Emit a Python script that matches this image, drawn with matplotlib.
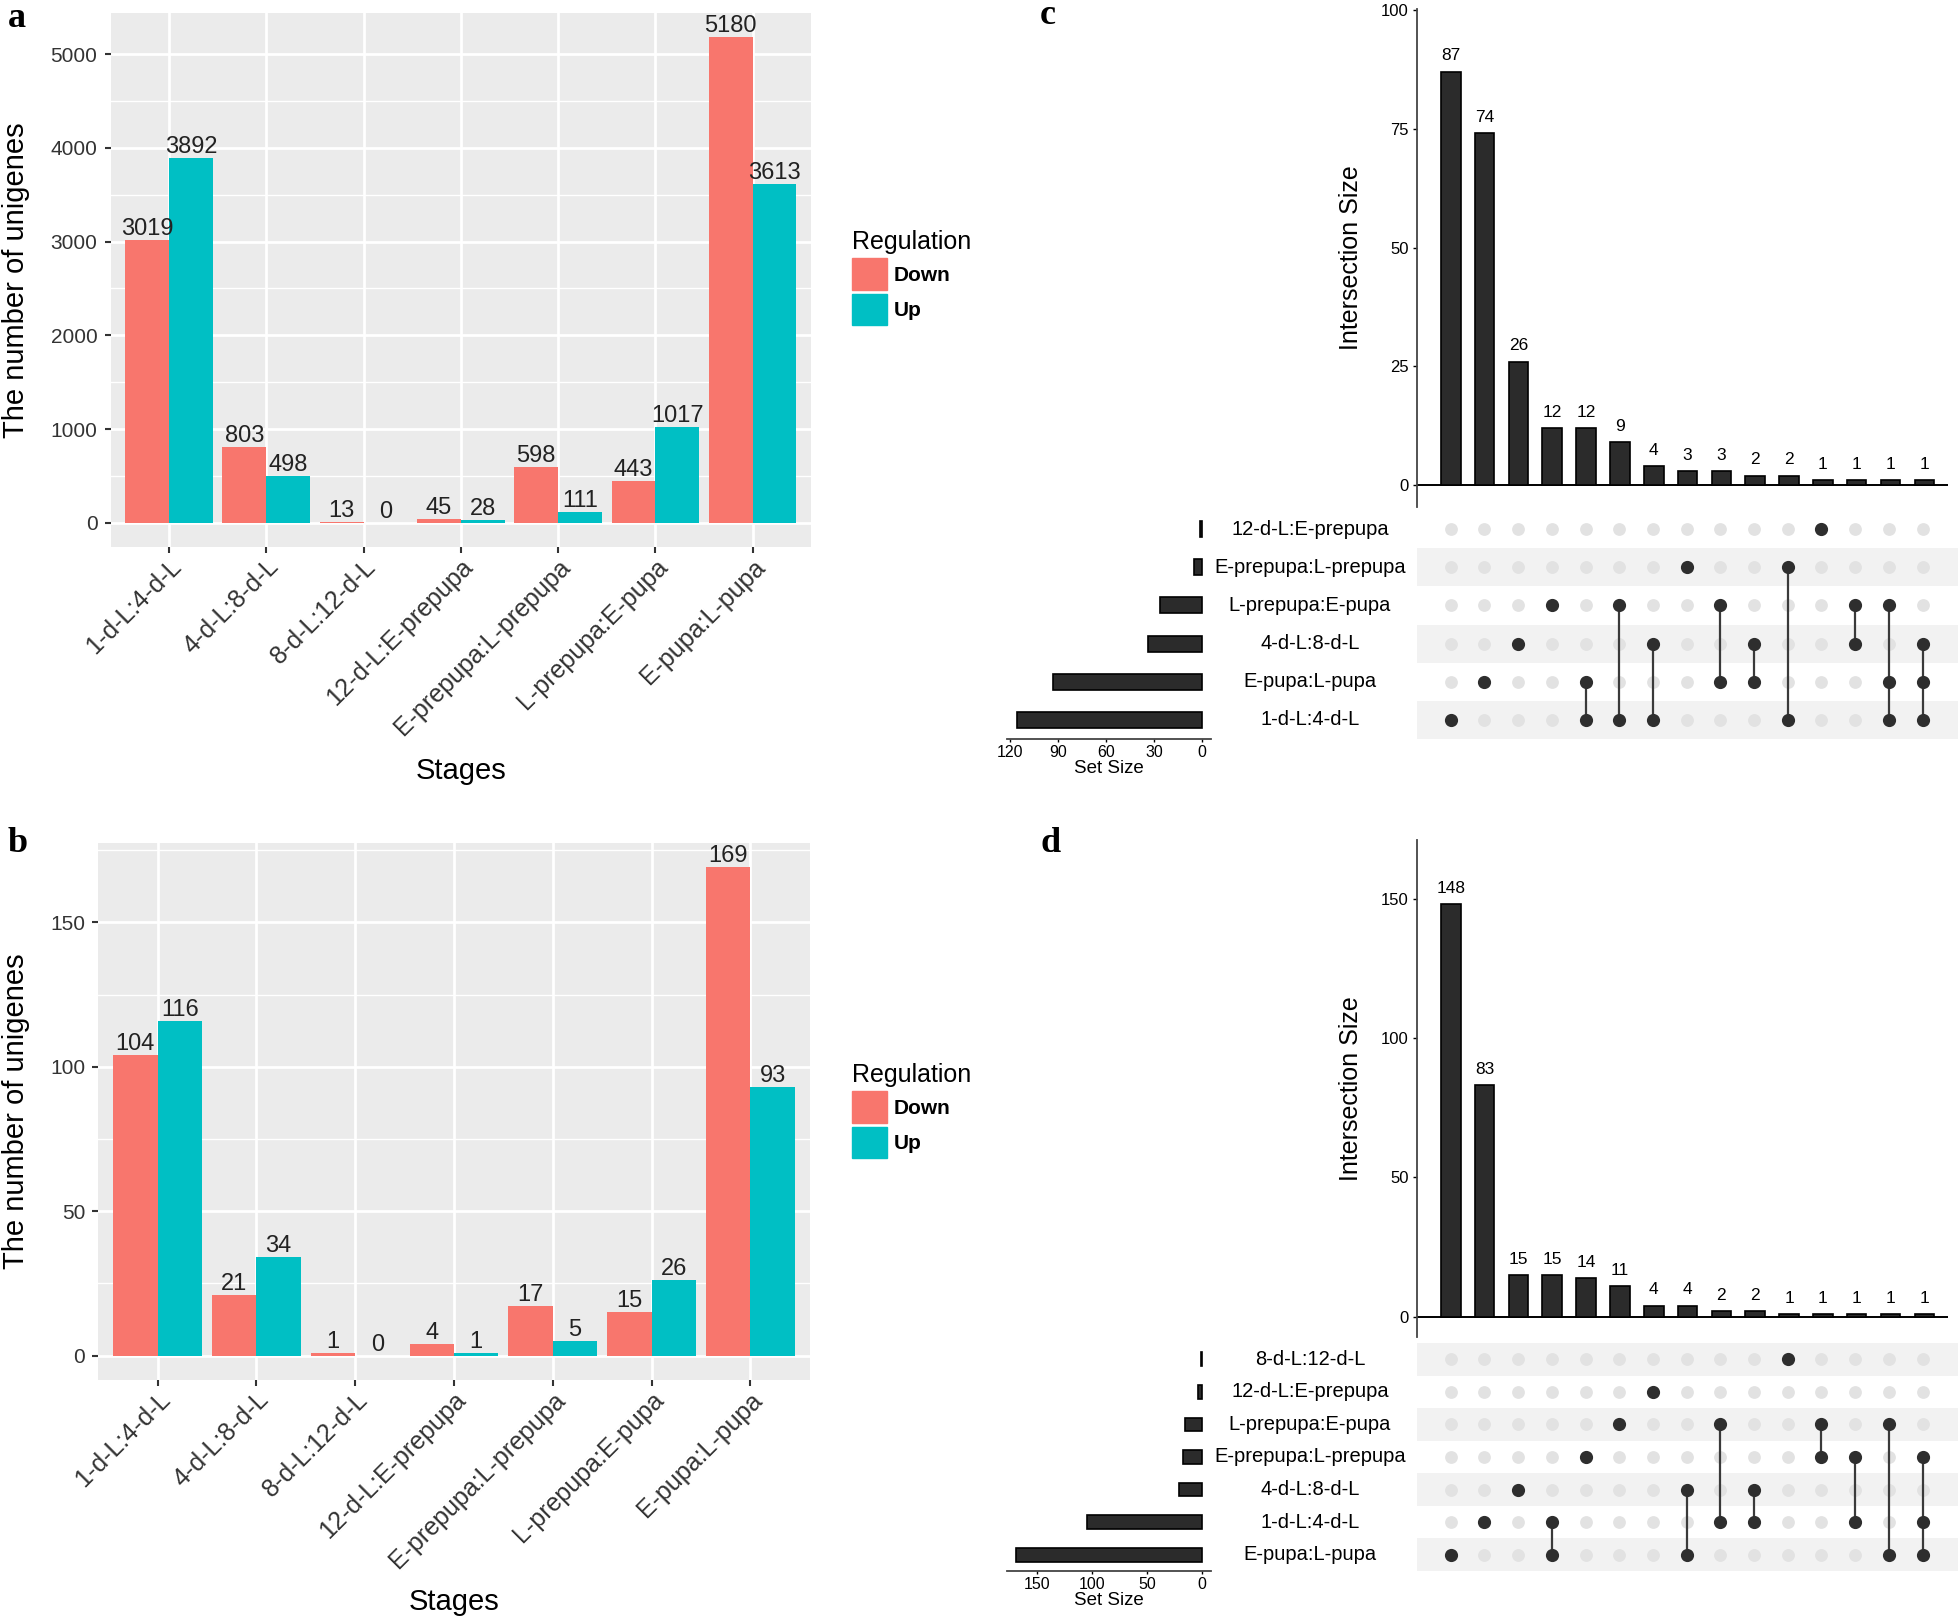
import matplotlib
matplotlib.use("Agg")
import matplotlib.pyplot as plt
import matplotlib.transforms as mtransforms
from matplotlib.patches import Patch
import numpy as np

plt.rcParams["font.family"] = ["Liberation Sans", "DejaVu Sans"]

W, H = 1959, 1623

# panels a / b : number of DEG unigenes per stage comparison
stages = ["1-d-L:4-d-L", "4-d-L:8-d-L", "8-d-L:12-d-L", "12-d-L:E-prepupa",
          "E-prepupa:L-prepupa", "L-prepupa:E-pupa", "E-pupa:L-pupa"]
down_a = [3019, 803, 13, 45, 598, 443, 5180]
up_a = [3892, 498, 0, 28, 111, 1017, 3613]
down_b = [104, 21, 1, 4, 17, 15, 169]
up_b = [116, 34, 0, 1, 5, 26, 93]

# panel c : upset of up-regulated sets (sets listed bottom -> top)
sets_c = ["1-d-L:4-d-L", "E-pupa:L-pupa", "4-d-L:8-d-L", "L-prepupa:E-pupa",
          "E-prepupa:L-prepupa", "12-d-L:E-prepupa"]
set_size_c = [116, 93, 34, 26, 5, 1]
inter_c = [87, 74, 26, 12, 12, 9, 4, 3, 3, 2, 2, 1, 1, 1, 1]
members_c = [
    ["1-d-L:4-d-L"],
    ["E-pupa:L-pupa"],
    ["4-d-L:8-d-L"],
    ["L-prepupa:E-pupa"],
    ["E-pupa:L-pupa", "1-d-L:4-d-L"],
    ["L-prepupa:E-pupa", "1-d-L:4-d-L"],
    ["4-d-L:8-d-L", "1-d-L:4-d-L"],
    ["E-prepupa:L-prepupa"],
    ["L-prepupa:E-pupa", "E-pupa:L-pupa"],
    ["4-d-L:8-d-L", "E-pupa:L-pupa"],
    ["E-prepupa:L-prepupa", "1-d-L:4-d-L"],
    ["12-d-L:E-prepupa"],
    ["L-prepupa:E-pupa", "4-d-L:8-d-L"],
    ["L-prepupa:E-pupa", "E-pupa:L-pupa", "1-d-L:4-d-L"],
    ["4-d-L:8-d-L", "E-pupa:L-pupa", "1-d-L:4-d-L"],
]

# panel d : upset of down-regulated sets (bottom -> top)
sets_d = ["E-pupa:L-pupa", "1-d-L:4-d-L", "4-d-L:8-d-L", "E-prepupa:L-prepupa",
          "L-prepupa:E-pupa", "12-d-L:E-prepupa", "8-d-L:12-d-L"]
set_size_d = [169, 104, 21, 17, 15, 4, 1]
inter_d = [148, 83, 15, 15, 14, 11, 4, 4, 2, 2, 1, 1, 1, 1, 1]
members_d = [
    ["E-pupa:L-pupa"],
    ["1-d-L:4-d-L"],
    ["4-d-L:8-d-L"],
    ["1-d-L:4-d-L", "E-pupa:L-pupa"],
    ["E-prepupa:L-prepupa"],
    ["L-prepupa:E-pupa"],
    ["12-d-L:E-prepupa"],
    ["4-d-L:8-d-L", "E-pupa:L-pupa"],
    ["L-prepupa:E-pupa", "1-d-L:4-d-L"],
    ["4-d-L:8-d-L", "1-d-L:4-d-L"],
    ["8-d-L:12-d-L"],
    ["L-prepupa:E-pupa", "E-prepupa:L-prepupa"],
    ["E-prepupa:L-prepupa", "1-d-L:4-d-L"],
    ["L-prepupa:E-pupa", "E-pupa:L-pupa"],
    ["E-prepupa:L-prepupa", "1-d-L:4-d-L", "E-pupa:L-pupa"],
]

RED = "#F8766D"
CYAN = "#00BFC4"
DARK = "#2b2b2b"

fig = plt.figure(figsize=(W / 100, H / 100), dpi=100)


def px_axes(x0, y0, x1, y1):
    # box given in pixels from the top-left corner
    return fig.add_axes([x0 / W, 1 - y1 / H, (x1 - x0) / W, (y1 - y0) / H])


def bar_panel(box, down, up, ylim, major, minor, ylab_x, xlab_y, legend_top):
    ax = px_axes(*box)
    ax.set_facecolor("#EBEBEB")
    x = np.arange(len(stages))
    ax.bar(x - 0.225, down, 0.45, color=RED, zorder=3)
    ax.bar(x + 0.225, up, 0.45, color=CYAN, zorder=3)
    for xi, d, u in zip(x, down, up):
        ax.text(xi - 0.225, d, str(d), ha="center", va="bottom", fontsize=17,
                color="#222222", zorder=4)
        ax.text(xi + 0.225, u, str(u), ha="center", va="bottom", fontsize=17,
                color="#222222", zorder=4)
    ax.set_xlim(-0.6, 6.6)
    ax.set_ylim(*ylim)
    ax.set_yticks(major)
    ax.set_yticks(minor, minor=True)
    ax.set_xticks(x, stages, rotation=45, ha="right", va="top",
                  rotation_mode="anchor", fontsize=18, color="#333333")
    ax.grid(which="major", color="white", lw=2.0, zorder=0)
    ax.grid(which="minor", axis="y", color="white", lw=1.0, zorder=0)
    ax.set_axisbelow(True)
    for s in ax.spines.values():
        s.set_visible(False)
    ax.tick_params(axis="both", which="major", length=4.5, width=1.5,
                   color="#333333", labelsize=15)
    ax.tick_params(axis="x", pad=1, labelsize=18)
    ax.tick_params(axis="y", pad=5, labelcolor="#333333")
    ax.tick_params(which="minor", length=0)
    ax.set_ylabel("The number of unigenes", fontsize=21)
    ax.yaxis.set_label_coords(ylab_x, 0.5)
    ax.set_xlabel("Stages", fontsize=21, va="top")
    ax.xaxis.set_label_coords(0.5, xlab_y)
    handles = [Patch(color=RED, label="Down"), Patch(color=CYAN, label="Up")]
    leg = ax.legend(handles=handles, title="Regulation", loc="upper left",
                    bbox_to_anchor=(852 / W, 1 - legend_top / H),
                    bbox_transform=fig.transFigure, frameon=False,
                    borderpad=0, handlelength=1.7, handleheight=1.95,
                    labelspacing=0.2, handletextpad=0.3, borderaxespad=0,
                    title_fontsize=18, prop={"size": 15, "weight": "bold"})
    leg._legend_box.align = "left"
    return ax


bar_panel((110.6, 13, 811, 547), down_a, up_a, (-259, 5439),
          np.arange(0, 5001, 1000), np.arange(500, 5000, 1000),
          -0.115, -0.393, 230)
bar_panel((98.3, 843, 809.7, 1380), down_b, up_b, (-8.45, 177.45),
          [0, 50, 100, 150], [25, 75, 125, 175],
          -0.096, -0.387, 1063)


def upset(bar_box, mat_box, set_box, sets, set_sizes, inter, members,
          ylim, yticks, set_lim, set_ticks):
    n = len(inter)
    m = len(sets)
    x = np.arange(n)

    axb = px_axes(*bar_box)
    axb.bar(x, inter, 0.58, color=DARK, edgecolor="black", lw=1.2, zorder=3)
    for xi, v in zip(x, inter):
        axb.annotate(str(v), (xi, v), xytext=(0, 6), textcoords="offset points",
                     ha="center", va="bottom", fontsize=12.5)
    axb.axhline(0, color="black", lw=1.4, zorder=2)
    axb.set_xlim(-1, n - 0.3)
    axb.set_ylim(*ylim)
    axb.set_xticks([])
    axb.set_yticks(yticks)
    for k in ("top", "right", "bottom"):
        axb.spines[k].set_visible(False)
    axb.spines["left"].set_color("#444444")
    axb.spines["left"].set_linewidth(1.3)
    axb.tick_params(axis="y", length=3, width=1, labelsize=12, pad=3)
    axb.set_ylabel("Intersection Size", fontsize=18)
    axb.yaxis.set_label_coords(-0.102, 0.5)

    axm = px_axes(*mat_box)
    for i in range(0, m, 2):
        axm.axhspan(i - 0.5, i + 0.5, color="#F2F2F2", zorder=0, lw=0)
    gx, gy = np.meshgrid(x, np.arange(m))
    axm.scatter(gx.ravel(), gy.ravel(), s=85, color="#E2E2E2", zorder=1,
                linewidths=0)
    for j, mem in enumerate(members):
        rows = [sets.index(s) for s in mem]
        if len(rows) > 1:
            axm.vlines(j, min(rows), max(rows), color="#3a3a3a", lw=1.6, zorder=2)
        axm.scatter([j] * len(rows), rows, s=90, color="#2e2e2e", zorder=3,
                    linewidths=0)
    axm.set_xlim(-1, n + 0.05)
    axm.set_ylim(-0.5, m - 0.5)
    axm.axis("off")
    trans = mtransforms.blended_transform_factory(axm.transAxes, axm.transData)
    for i, s in enumerate(sets):
        axm.text(-0.198, i, s, transform=trans, ha="center", va="center",
                 fontsize=14.5)

    axs = px_axes(*set_box)
    axs.barh(np.arange(m), set_sizes, 0.42, color=DARK, edgecolor="black", lw=1.2)
    axs.set_xlim(*set_lim)
    axs.set_ylim(-0.5, m - 0.5)
    axs.set_yticks([])
    axs.set_xticks(set_ticks)
    for k in ("top", "right", "left"):
        axs.spines[k].set_visible(False)
    axs.spines["bottom"].set_color("#444444")
    axs.spines["bottom"].set_linewidth(1.3)
    axs.tick_params(axis="x", length=2, width=1, labelsize=11.5, pad=2)
    axs.set_xlabel("Set Size", fontsize=13.5, va="top")
    axs.xaxis.set_label_coords(0.5, -0.092)


upset((1417, 9, 1948, 507), (1417, 510, 1958, 739), (1007, 510, 1211, 739),
      sets_c, set_size_c, inter_c, members_c, (-4.6, 100.2),
      [0, 25, 50, 75, 100], (122, -5.6), [0, 30, 60, 90, 120])
upset((1417, 840, 1948, 1337), (1417, 1343, 1958, 1571), (1007, 1343, 1211, 1571),
      sets_d, set_size_d, inter_d, members_d, (-7.2, 171),
      [0, 50, 100, 150], (177, -8.2), [0, 50, 100, 150])

for letter, px, py in [("a", 8, 27), ("b", 8, 852), ("c", 1040, 24), ("d", 1040, 852)]:
    fig.text(px / W, 1 - py / H, letter, fontsize=26, fontweight="bold",
             family=["Liberation Serif", "DejaVu Serif"], va="baseline", ha="left")

fig.savefig("out.png", dpi=100)
